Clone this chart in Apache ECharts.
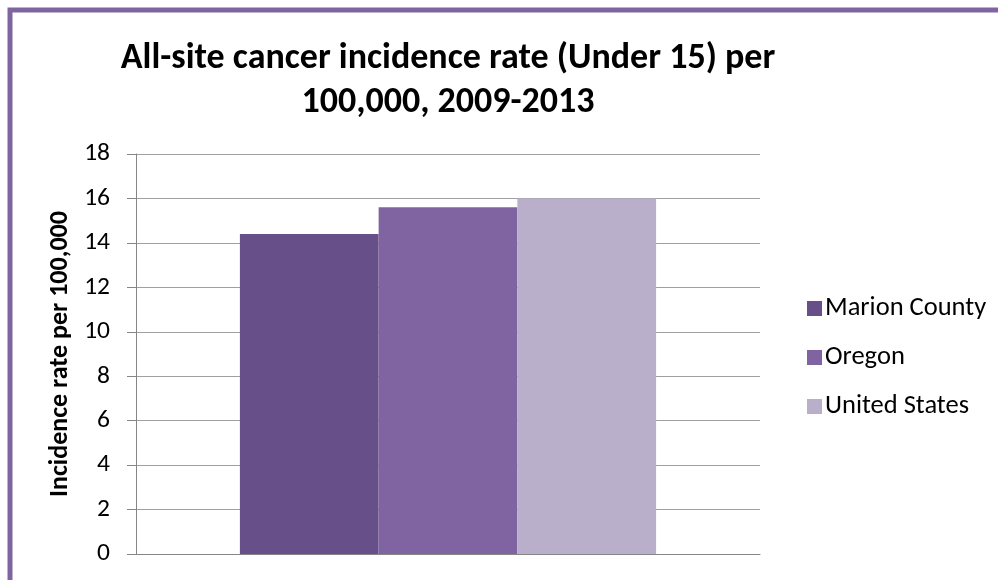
<!DOCTYPE html>
<html><head><meta charset="utf-8">
<script src="https://cdn.jsdelivr.net/npm/echarts@6/dist/echarts.min.js"></script>
<style>html,body{margin:0;padding:0;background:#fff}#c{width:998px;height:580px}</style>
</head><body><div id="c"></div>
<script>
const categories = [''];
const seriesNames = ['Marion County', 'Oregon', 'United States'];
const marionValues = [14.4];
const oregonValues = [15.6];
const usValues = [16.0];
const colors = ['#67508A', '#8064A2', '#B9AFCB'];

const chart = echarts.init(document.getElementById('c'));
const font = 'Carlito, "Liberation Sans", Arial, sans-serif';
chart.setOption({
  animation: false,
  backgroundColor: '#fff',
  title: {
    text: 'All-site cancer incidence rate (Under 15) per\n100,000, 2009-2013',
    left: 443, top: 32, textAlign: 'center',
    textStyle: { fontFamily: font, fontSize: 36, fontWeight: 'bold', color: '#000', lineHeight: 44 }
  },
  graphic: [{
    type: 'rect', shape: { x: 10, y: 10, width: 1000, height: 600 },
    style: { fill: 'none', stroke: '#8064A2', lineWidth: 5 }
  }],
  legend: {
    orient: 'vertical', left: 802, top: 290, itemGap: 22, itemWidth: 15, itemHeight: 15,
    icon: 'rect',
    textStyle: { fontFamily: font, fontSize: 26.5, lineHeight: 26, color: '#000', padding: [0, 0, 0, -2] },
    data: seriesNames
  },
  grid: { left: 136, right: 238, top: 154, bottom: 26 },
  xAxis: {
    type: 'category', data: categories,
    axisLine: { lineStyle: { color: '#868686' } },
    axisTick: { show: false },
    axisLabel: { show: false }
  },
  yAxis: {
    type: 'value', min: 0, max: 18, interval: 2,
    name: 'Incidence rate per 100,000', nameLocation: 'middle', nameGap: 62, nameRotate: 90,
    nameTextStyle: { fontFamily: font, fontSize: 26, fontWeight: 'bold', color: '#000' },
    axisLine: { show: true, lineStyle: { color: '#868686' } },
    axisTick: { show: true, length: 9, lineStyle: { color: '#868686' } },
    axisLabel: { fontFamily: font, fontSize: 25.5, color: '#000', margin: 26 },
    splitLine: { lineStyle: { color: '#A0A0A0' } }
  },
  series: [
    { name: seriesNames[0], type: 'bar', data: marionValues, itemStyle: { color: colors[0] }, barGap: '0%', barCategoryGap: '33.3%' },
    { name: seriesNames[1], type: 'bar', data: oregonValues, itemStyle: { color: colors[1] }, barGap: '0%', barCategoryGap: '33.3%' },
    { name: seriesNames[2], type: 'bar', data: usValues, itemStyle: { color: colors[2] }, barGap: '0%', barCategoryGap: '33.3%' }
  ]
});
</script></body></html>
